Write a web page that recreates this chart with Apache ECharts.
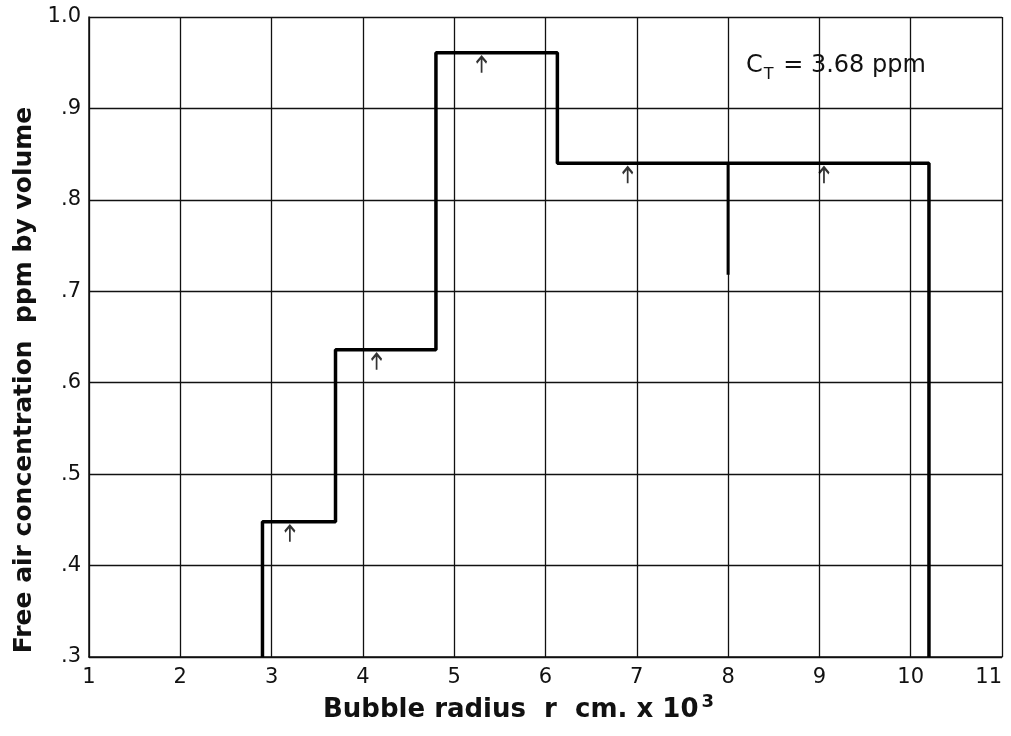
<!DOCTYPE html>
<html>
<head>
<meta charset="utf-8">
<script src="https://cdn.jsdelivr.net/npm/echarts@6/dist/echarts.min.js"></script>
<style>html,body{margin:0;padding:0;background:#fff;overflow:hidden}#c{width:1011px;height:736px}</style>
</head>
<body>
<div id="c"></div>
<script>
// Histogram bin edges (bubble radius, cm x 10^3) and free air concentration (ppm by volume)
const binEdges = [2.9, 3.7, 4.8, 6.13, 10.2];
const binValues = [0.448, 0.636, 0.961, 0.840];
// Extra partial divider inside the last bin
const dividerX = [8, 8];
const dividerY = [0.840, 0.718];
// Arrow markers (mean radius of each bin)
const arrowX = [3.2, 4.15, 5.3, 6.9, 9.05];
const arrowY = [0.448, 0.636, 0.961, 0.840, 0.840];
// Tick labels
const xTickLabels = ['1','2','3','4','5','6','7','8','9','10','11'];
const yTickLabels = ['.3','.4','.5','.6','.7','.8','.9','1.0'];
const yMin = 0.3, yMax = 1.0, xMin = 1, xMax = 11;

const stepData = [[binEdges[0], yMin]];
for (let i = 0; i < binValues.length; i++) {
  stepData.push([binEdges[i], binValues[i]]);
  stepData.push([binEdges[i + 1], binValues[i]]);
}
stepData.push([binEdges[binEdges.length - 1], yMin]);

const dividerData = dividerX.map((x, i) => [x, dividerY[i]]);
const arrowData = arrowX.map((x, i) => [x, arrowY[i]]);

const FONT = 'DejaVu Sans';
const chart = echarts.init(document.getElementById('c'), null, {renderer: 'canvas', width: 1011, height: 736});
chart.setOption({
  backgroundColor: '#fff',
  animation: false,
  grid: {left: 89, right: 9, top: 17, bottom: 79, containLabel: false, outerBoundsMode: 'none'},
  xAxis: {
    type: 'value', min: xMin, max: xMax, interval: 1,
    name: 'Bubble radius  r  cm. x 10{sup|3}',
    nameLocation: 'middle', nameGap: 32,
    nameTextStyle: {fontFamily: FONT, fontSize: 26, fontWeight: 'bold', color: '#111', padding: [0, 54, 0, 0],
      rich: {sup: {fontFamily: FONT, fontSize: 18, fontWeight: 'bold', color: '#111', verticalAlign: 'bottom', padding: [0,0,16,3]}}},
    axisLine: {show: true, lineStyle: {color: '#111', width: 1.5}},
    axisTick: {show: false},
    splitLine: {show: true, lineStyle: {color: '#111', width: 1.3}},
    axisLabel: {fontFamily: FONT, fontSize: 21, color: '#111', margin: 10, alignMaxLabel: 'right',
      formatter: v => xTickLabels[Math.round(v) - xMin] || ''}
  },
  yAxis: {
    type: 'value', min: yMin, max: yMax, interval: 0.1,
    name: 'Free air concentration  ppm by volume',
    nameLocation: 'middle', nameGap: 52, nameRotate: 90,
    nameTextStyle: {fontFamily: FONT, fontSize: 25, fontWeight: 'bold', color: '#111', padding: [0, 86, 0, 0]},
    axisLine: {show: true, lineStyle: {color: '#111', width: 1.5}},
    axisTick: {show: false},
    splitLine: {show: true, lineStyle: {color: '#111', width: 1.3}},
    axisLabel: {fontFamily: FONT, fontSize: 21, color: '#111', margin: 8,
      formatter: v => yTickLabels[Math.round((v - yMin) * 10)] || ''}
  },
  series: [
    {type: 'line', data: stepData, symbol: 'none', lineStyle: {color: '#000', width: 3.5}, z: 5},
    {type: 'line', data: dividerData, symbol: 'none', lineStyle: {color: '#000', width: 3}, z: 5},
    {type: 'scatter', data: arrowData, symbol: 'path://M0,6 L5,0 L10,6 M5,0 L5,16',
      symbolSize: [10, 16], symbolOffset: [0, 12],
      itemStyle: {color: 'rgba(0,0,0,0)', borderColor: '#000', borderWidth: 2.2}, z: 6}
  ],
  graphic: [{
    type: 'text', left: 746, top: 54, z: 10,
    style: {
      text: '{c|C}{sub|T}{c| = 3.68 ppm}',
      rich: {
        c: {fontFamily: FONT, fontSize: 24, fill: '#111'},
        sub: {fontFamily: FONT, fontSize: 16, fill: '#111', verticalAlign: 'top', padding: [17, 2, 0, 1]}
      }
    }
  }]
});
</script>
</body>
</html>
